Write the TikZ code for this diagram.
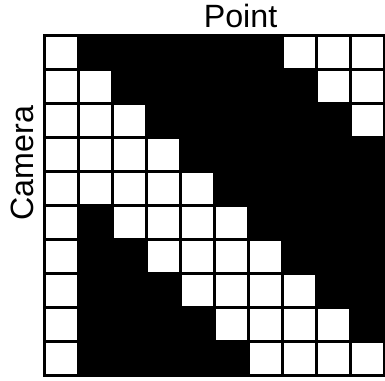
\documentclass[tikz,border=0pt]{standalone}
\usepackage{fontspec}
\setmainfont{Liberation Sans}
\usetikzlibrary{positioning}

\tikzset{
  cell/.style={fill=white},
  axislabel/.style={font=\fontsize{27.5}{30}\selectfont, inner sep=0pt, anchor=base}
}

\begin{document}
\begin{tikzpicture}[x=0.03cm, y=-0.03cm]
\useasboundingbox (0,0) rectangle (385,380);
% black matrix
\fill[black] (43,34) rectangle (386,377);
% visible (white) entries, row / columns
\foreach \r/\cols in {1/{1,8,9,10}, 2/{1,2,9,10}, 3/{1,2,3,10}, 4/{1,2,3,4},
                      5/{1,2,3,4,5}, 6/{1,3,4,5,6}, 7/{1,4,5,6,7}, 8/{1,5,6,7,8},
                      9/{1,6,7,8,9}, 10/{1,7,8,9,10}} {
  \foreach \c in \cols {
    \fill[cell] ({46+34*(\c-1)},{37+34*(\r-1)}) rectangle ++(31,31);
  }
}
\node[axislabel] (point) at (240.5,27) {Point};
\node[axislabel, rotate=90] (camera) at (33,163) {Camera};
\end{tikzpicture}
\end{document}
